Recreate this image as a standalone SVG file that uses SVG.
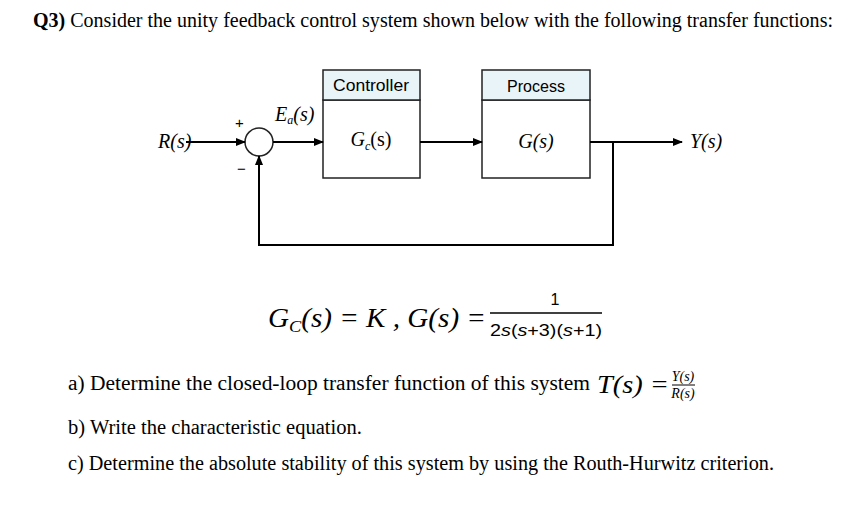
<svg xmlns="http://www.w3.org/2000/svg" width="842" height="505" viewBox="0 0 842 505">
<style>
.t{font-family:"Liberation Serif",serif;font-size:20px;fill:#000}
.s{font-family:"Liberation Sans",sans-serif;fill:#000}
.ln{stroke:#000;stroke-width:2;fill:none}
.box{fill:#fff;stroke:#222;stroke-width:1.5}
.hd{fill:#e8f4f8;stroke:#222;stroke-width:1.5}
.m{font-family:"Liberation Serif",serif;font-style:italic;fill:#000}
</style>
<defs><marker id="a" markerWidth="10" markerHeight="8" refX="9" refY="4" orient="auto" markerUnits="userSpaceOnUse"><path d="M0,0L10,4L0,8z" fill="#000"/></marker></defs>
<rect width="842" height="505" fill="#fff"/>
<text class="t" x="33" y="27" textLength="800" lengthAdjust="spacingAndGlyphs"><tspan font-weight="bold">Q3)</tspan> Consider the unity feedback control system shown below with the following transfer functions:</text>
<g id="controller"><rect class="box" x="323" y="100" width="97" height="78"/><rect class="hd" x="323" y="70" width="97" height="30"/>
<text class="s" x="371" y="91" font-size="17" text-anchor="middle" textLength="76" lengthAdjust="spacingAndGlyphs">Controller</text>
<text class="t" x="371" y="146" font-size="18" text-anchor="middle"><tspan font-style="italic">G</tspan><tspan font-size="12" dy="4" font-style="italic">c</tspan><tspan dy="-4">(s)</tspan></text></g>
<g id="process"><rect class="box" x="482" y="100" width="108" height="78"/><rect class="hd" x="482" y="70" width="108" height="30"/>
<text class="s" x="536" y="92" font-size="17" text-anchor="middle" textLength="58" lengthAdjust="spacingAndGlyphs">Process</text>
<text class="t" x="536" y="148" font-size="18" text-anchor="middle" font-style="italic">G(s)</text></g>
<g id="sum"><circle cx="259" cy="142" r="14" fill="#fff" stroke="#222" stroke-width="1.5"/>
<text class="s" x="235" y="128" font-size="15">+</text><text class="s" x="237" y="174" font-size="15">−</text></g>
<g id="labels"><text class="t" x="158" y="148" font-size="16" font-style="italic" fill="#3a6a8a">R(s)</text>
<text class="t" x="275" y="121" font-size="18" font-style="italic">E<tspan font-size="12" dy="3">a</tspan><tspan dy="-3">(s)</tspan></text>
<text class="t" x="690" y="148" font-size="16" font-style="italic" fill="#3a6a8a">Y(s)</text></g>
<g id="connectors">
<line class="ln" x1="186" y1="142" x2="245" y2="142" marker-end="url(#a)"/>
<line class="ln" x1="273" y1="142" x2="323" y2="142" marker-end="url(#a)"/>
<line class="ln" x1="420" y1="142" x2="482" y2="142" marker-end="url(#a)"/>
<line class="ln" x1="590" y1="142" x2="682" y2="142" marker-end="url(#a)"/>
<polyline class="ln" points="613,142 613,245 259,245 259,156" marker-end="url(#a)"/>
</g>
<g id="eq">
<text class="m" x="268" y="327" font-size="27" textLength="218" lengthAdjust="spacingAndGlyphs">G<tspan font-size="17" dy="5">C</tspan><tspan dy="-5">(s) = K , G(s) =</tspan></text>
<line x1="490" y1="313" x2="602" y2="313" stroke="#000" stroke-width="1.5"/>
<text class="s" x="555" y="305" font-size="16" text-anchor="middle">1</text>
<text class="s" x="546" y="336" font-size="17" text-anchor="middle" textLength="112" lengthAdjust="spacingAndGlyphs">2<tspan font-style="italic">s</tspan>(<tspan font-style="italic">s</tspan>+3)(<tspan font-style="italic">s</tspan>+1)</text>
</g>
<text class="t" x="68" y="390" textLength="522" lengthAdjust="spacingAndGlyphs">a)  Determine the closed-loop transfer function of this system</text>
<text class="m" x="597" y="393" font-size="26" textLength="72" lengthAdjust="spacingAndGlyphs">T(s) =</text>
<line x1="672" y1="385" x2="695" y2="385" stroke="#000" stroke-width="1"/>
<text class="m" x="683" y="381" font-size="14" text-anchor="middle">Y(s)</text>
<text class="m" x="683" y="398" font-size="14" text-anchor="middle">R(s)</text>
<text class="t" x="68" y="434" textLength="294" lengthAdjust="spacingAndGlyphs">b)  Write the characteristic equation.</text>
<text class="t" x="68" y="470" textLength="706" lengthAdjust="spacingAndGlyphs">c)  Determine the absolute stability of this system by using the Routh-Hurwitz criterion.</text>
</svg>
